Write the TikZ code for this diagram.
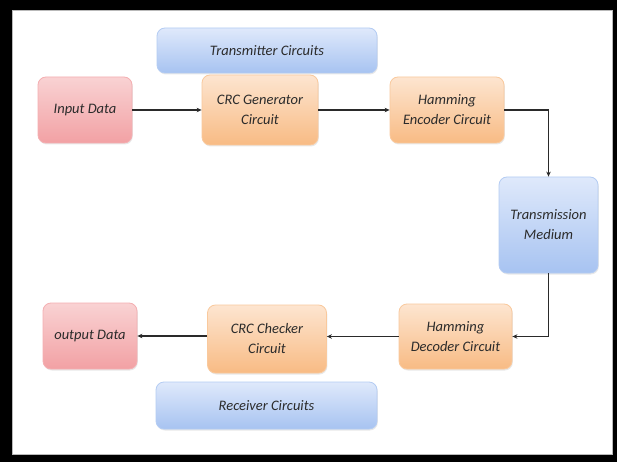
\documentclass[tikz,border=0pt]{standalone}
\usepackage{fontspec}
\setmainfont{Carlito}
\usetikzlibrary{arrows.meta,shadows}
\definecolor{txt}{HTML}{2B2B2B}
\definecolor{linec}{HTML}{2A2A2A}
\definecolor{pinkT}{HTML}{F9D2D3}
\definecolor{pinkB}{HTML}{F2A1A4}
\definecolor{oranT}{HTML}{FDE5D0}
\definecolor{oranB}{HTML}{F8BB84}
\definecolor{blueT}{HTML}{DFE9FB}
\definecolor{blueB}{HTML}{A7C3F1}
\tikzset{
  box/.style={rounded corners=8pt, align=center, text=txt,
    font=\fontsize{14.5}{20}\selectfont\itshape, line width=0.8pt,
    drop shadow={opacity=0.18, shadow xshift=0.8pt, shadow yshift=-1.5pt}},
  pinkbox/.style={box, top color=pinkT, bottom color=pinkB, draw=pinkB!85!white},
  oranbox/.style={box, top color=oranT, bottom color=oranB, draw=oranB!80!white},
  bluebox/.style={box, top color=blueT, bottom color=blueB, draw=blueB!85!white},
  arr/.style={draw=linec, line width=1.3pt, -{Stealth[length=5pt,width=4.5pt]}}
}
\begin{document}
\begin{tikzpicture}[x=1pt,y=-1pt]
% frame
\fill[black] (0,0) rectangle (617,462);
\fill[white] (12,10) rectangle (613,455);
\draw[gray!55, line width=0.8pt] (12.5,10.5) rectangle (612.5,454.5);
\useasboundingbox (0,0) rectangle (617,462);

% transmitter side
\node[bluebox, minimum width=220pt, minimum height=45pt] (tx) at (267,50.5) {Transmitter Circuits};
\node[pinkbox, minimum width=94pt, minimum height=66pt] (in) at (85,110) {Input Data};
\node[oranbox, minimum width=116pt, minimum height=70pt] (gen) at (260,110) {CRC Generator\\Circuit};
\node[oranbox, minimum width=114pt, minimum height=66pt] (enc) at (447,110) {Hamming\\Encoder Circuit};

% channel
\node[bluebox, minimum width=99pt, minimum height=96pt] (tm) at (548.5,225) {Transmission\\Medium};

% receiver side
\node[oranbox, minimum width=113pt, minimum height=65pt] (dec) at (455.5,336.5) {Hamming\\Decoder Circuit};
\node[oranbox, minimum width=119pt, minimum height=68pt] (chk) at (267,339) {CRC Checker\\Circuit};
\node[pinkbox, minimum width=94pt, minimum height=66pt] (out) at (90,336) {output Data};
\node[bluebox, minimum width=221pt, minimum height=47pt] (rx) at (266.5,405.5) {Receiver Circuits};

% data path
\draw[arr] (in) -- (gen);
\draw[arr] (gen) -- (enc);
\draw[arr] (enc.east) -| (tm.north);
\draw[arr] (tm.south) |- (dec.east);
\draw[arr] (dec.west) -- (chk.east |- dec.west);
\draw[arr] (chk.west |- out.east) -- (out.east);
\end{tikzpicture}
\end{document}
